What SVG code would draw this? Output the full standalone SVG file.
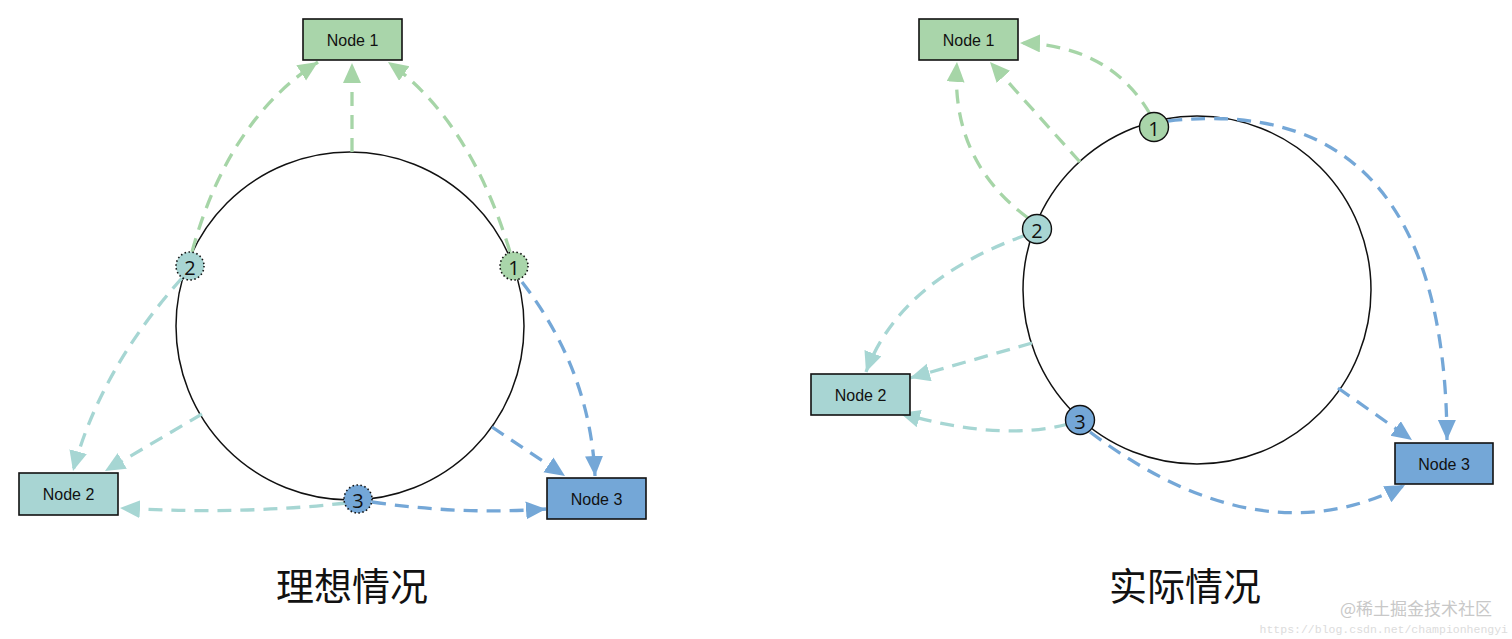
<svg xmlns="http://www.w3.org/2000/svg" width="1512" height="639" viewBox="0 0 1512 639">
<style>
.node{stroke:#111;stroke-width:1.6}
.ntext{font-family:"Liberation Sans",Arial,sans-serif;font-size:16px;fill:#111;text-anchor:middle;dominant-baseline:central}
.ring{fill:none;stroke:#111;stroke-width:1.5}
.c{fill:none;stroke-width:3.3;stroke-dasharray:14 9}
.g{stroke:#a6d5a7}.t{stroke:#a6d6d3}.b{stroke:#74a7d7}
.mk{stroke:#111;stroke-width:1.4}
.dot{stroke-dasharray:1.5 2.5;stroke-width:1.6}
.mtext{font-family:"Open Sans","DejaVu Sans",sans-serif;font-size:20px;fill:#111;text-anchor:middle;dominant-baseline:central}
.title{font-family:"Noto Sans CJK SC","Noto Sans CJK JP",sans-serif;font-size:38px;fill:#111;text-anchor:middle}
</style>
<defs>
<marker id="ag" markerUnits="userSpaceOnUse" markerWidth="22" markerHeight="20" refX="20" refY="9" orient="auto"><path d="M0,0 L20,9 L0,18 z" fill="#a6d5a7"/></marker>
<marker id="at" markerUnits="userSpaceOnUse" markerWidth="22" markerHeight="20" refX="20" refY="9" orient="auto"><path d="M0,0 L20,9 L0,18 z" fill="#a6d6d3"/></marker>
<marker id="ab" markerUnits="userSpaceOnUse" markerWidth="22" markerHeight="20" refX="20" refY="9" orient="auto"><path d="M0,0 L20,9 L0,18 z" fill="#74a7d7"/></marker>
</defs>
<rect width="1512" height="639" fill="#fff"/>
<circle class="ring" cx="350" cy="326" r="174"/>
<circle class="ring" cx="1197" cy="290" r="174"/>
<g id="connectors">
<path class="c g" d="M192,252 Q228,120 318,62" marker-end="url(#ag)"/>
<path class="c g" d="M352,152 L352,63" marker-end="url(#ag)"/>
<path class="c g" d="M510,252 Q470,120 388,62" marker-end="url(#ag)"/>
<path class="c t" d="M182,278 Q100,370 73,471" marker-end="url(#at)"/>
<path class="c t" d="M202,414 L105,471" marker-end="url(#at)"/>
<path class="c t" d="M346,503 Q240,515 120,508" marker-end="url(#at)"/>
<path class="c b" d="M522,282 Q590,370 595,476" marker-end="url(#ab)"/>
<path class="c b" d="M492,427 L565,476" marker-end="url(#ab)"/>
<path class="c b" d="M372,502 Q460,515 546,509" marker-end="url(#ab)"/>
<path class="c g" d="M1150,114 Q1110,45 1020,43" marker-end="url(#ag)"/>
<path class="c g" d="M1080,162 L990,62" marker-end="url(#ag)"/>
<path class="c g" d="M1028,218 Q950,160 957,62" marker-end="url(#ag)"/>
<path class="c b" d="M1168,121 Q1445,90 1447,440" marker-end="url(#ab)"/>
<path class="c b" d="M1338,388 L1412,440" marker-end="url(#ab)"/>
<path class="c b" d="M1090,432 Q1260,560 1405,485" marker-end="url(#ab)"/>
<path class="c t" d="M1026,235 Q900,280 866,372" marker-end="url(#at)"/>
<path class="c t" d="M1032,343 L910,378" marker-end="url(#at)"/>
<path class="c t" d="M1068,424 Q1000,442 900,413" marker-end="url(#at)"/>
</g>
<g id="left-node1"><rect class="node" x="303" y="19" width="99" height="41" fill="#a9d5aa"/><text class="ntext" x="352.5" y="40">Node 1</text></g>
<g id="left-node2"><rect class="node" x="19" y="473" width="99" height="42" fill="#a8d5d3"/><text class="ntext" x="68.5" y="494">Node 2</text></g>
<g id="left-node3"><rect class="node" x="547" y="478" width="99" height="41" fill="#74a7d7"/><text class="ntext" x="596.5" y="499">Node 3</text></g>
<g id="left-m2"><circle class="mk dot" cx="190" cy="266" r="14" fill="#a8d5d3"/><text class="mtext" x="190" y="267">2</text></g>
<g id="left-m1"><circle class="mk dot" cx="514" cy="266" r="14" fill="#a9d5aa"/><text class="mtext" x="514" y="267">1</text></g>
<g id="left-m3"><circle class="mk dot" cx="358" cy="499" r="14" fill="#74a7d7"/><text class="mtext" x="358" y="500">3</text></g>
<g id="right-node1"><rect class="node" x="919" y="19" width="99" height="41" fill="#a9d5aa"/><text class="ntext" x="968.5" y="40">Node 1</text></g>
<g id="right-node2"><rect class="node" x="811" y="374" width="99" height="41" fill="#a8d5d3"/><text class="ntext" x="860.5" y="395">Node 2</text></g>
<g id="right-node3"><rect class="node" x="1395" y="443" width="98" height="41" fill="#74a7d7"/><text class="ntext" x="1444" y="464">Node 3</text></g>
<g id="right-m1"><circle class="mk" cx="1154" cy="127" r="14.5" fill="#a9d5aa"/><text class="mtext" x="1154" y="128">1</text></g>
<g id="right-m2"><circle class="mk" cx="1037" cy="229" r="14.5" fill="#a8d5d3"/><text class="mtext" x="1037" y="230">2</text></g>
<g id="right-m3"><circle class="mk" cx="1080" cy="420" r="14.5" fill="#74a7d7"/><text class="mtext" x="1080" y="421">3</text></g>
<text class="title" x="352" y="600">理想情况</text>
<text class="title" x="1185" y="600">实际情况</text>
<text x="1492" y="615" text-anchor="end" font-family="Noto Sans CJK SC,sans-serif" font-size="17" fill="#c8c8c8">@稀土掘金技术社区</text>
<text x="1508" y="633" text-anchor="end" font-family="Liberation Mono,monospace" font-size="11.5" fill="#dcdcdc">https://blog.csdn.net/championhengyi</text>
</svg>
